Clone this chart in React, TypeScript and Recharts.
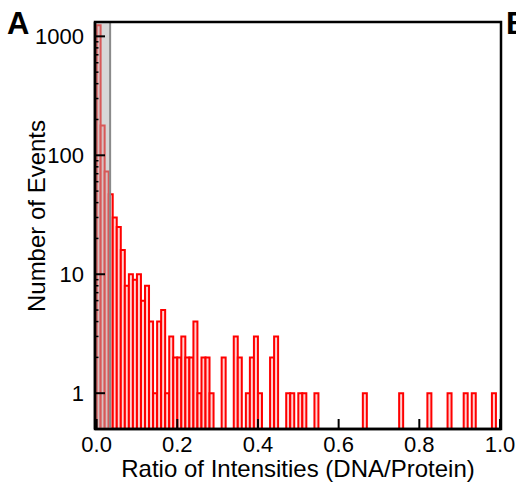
import React from 'react'
import { BarChart, Bar, XAxis, YAxis, ReferenceArea, Label } from 'recharts'

// histogram bins of width 0.01, only the non-empty ones (centre of each bin)
const binCenters = [
  0.005, 0.015, 0.025, 0.035, 0.045, 0.055, 0.065, 0.075, 0.085, 0.095,
  0.105, 0.115, 0.125, 0.135, 0.145, 0.155, 0.165, 0.175, 0.185, 0.195,
  0.205, 0.215, 0.225, 0.235, 0.245, 0.255, 0.265, 0.275, 0.285, 0.315,
  0.345, 0.355, 0.375, 0.385, 0.395, 0.405, 0.435, 0.445, 0.475, 0.485,
  0.505, 0.515, 0.545, 0.665, 0.755, 0.825, 0.875, 0.915, 0.935, 0.985,
]
const eventCounts = [
  1240, 178, 73, 47, 30, 25, 16, 8, 10, 9,
  10, 6, 8, 4, 1, 4, 5, 1, 3, 2,
  2, 3, 2, 2, 4, 1, 2, 2, 1, 2,
  3, 2, 1, 2, 3, 1, 2, 3, 1, 1,
  1, 1, 1, 1, 1, 1, 1, 1, 1, 1,
]

const xTicks = [0, 0.2, 0.4, 0.6, 0.8, 1.0]
const yMajorTicks = [1, 10, 100, 1000]
const yMinorTicks = [
  2, 3, 4, 5, 6, 7, 8, 9,
  20, 30, 40, 50, 60, 70, 80, 90,
  200, 300, 400, 500, 600, 700, 800, 900,
]
// gray band marking the low-ratio cut
const cutoffRange = [-0.004, 0.0335]

const X_DOMAIN = [-0.004, 1.0025]
const Y_DOMAIN = [0.5, 1320]
const FONT = '"Liberation Sans", Arial, Helvetica, sans-serif'

const data = binCenters.map((c, i) => ({ center: c, count: eventCounts[i] }))

function XTick(props: any) {
  const { x, y, payload } = props
  return (
    <g>
      <line x1={x} x2={x} y1={y} y2={y - 10} stroke="#000" strokeWidth={2} />
      <text x={x} y={y + 23} textAnchor="middle" fontSize={22} fill="#000" fontFamily={FONT}>
        {Number(payload.value).toFixed(1)}
      </text>
    </g>
  )
}

function YTick(props: any) {
  const { x, y, payload } = props
  const major = yMajorTicks.includes(payload.value)
  if (!major) {
    return <line x1={x} x2={x + 3.5} y1={y} y2={y} stroke="#000" strokeWidth={1.5} />
  }
  return (
    <g>
      <line x1={x} x2={x + 10} y1={y} y2={y} stroke="#000" strokeWidth={2} />
      <text x={x - 11} y={y + 8} textAnchor="end" fontSize={22} fill="#000" fontFamily={FONT}>
        {payload.value}
      </text>
    </g>
  )
}

export default function App() {
  return (
    <div style={{ position: 'absolute', left: 0, top: 0, width: 516, height: 485, background: '#fff' }}>
      <BarChart
        width={516}
        height={485}
        data={data}
        margin={{ top: 22, right: 15, bottom: 0, left: 0 }}
        barCategoryGap={0}
        barGap={0}
      >
        <XAxis
          dataKey="center"
          type="number"
          domain={X_DOMAIN}
          allowDataOverflow
          ticks={xTicks}
          interval={0}
          tick={XTick}
          tickLine={false}
          tickSize={0}
          tickMargin={0}
          axisLine={{ stroke: '#000', strokeWidth: 2.5 }}
          height={56}
        >
          <Label
            value="Ratio of Intensities (DNA/Protein)"
            position="insideBottom"
            offset={8}
            style={{ fontSize: 24, fill: '#000', fontFamily: FONT }}
          />
        </XAxis>
        <YAxis
          type="number"
          scale="log"
          domain={Y_DOMAIN}
          allowDataOverflow
          ticks={[...yMajorTicks, ...yMinorTicks]}
          interval={0}
          tick={YTick}
          tickLine={false}
          tickSize={0}
          tickMargin={0}
          axisLine={{ stroke: '#000', strokeWidth: 2.5 }}
          width={95}
        >
          <Label
            content={() => (
              <text
                x={45}
                y={216}
                transform="rotate(-90 45 216)"
                textAnchor="middle"
                fontSize={24}
                fill="#000"
                fontFamily={FONT}
              >
                Number of Events
              </text>
            )}
          />
        </YAxis>
        <Bar
          dataKey="count"
          fill="#ffd2d2"
          stroke="#ff0000"
          strokeWidth={2}
          isAnimationActive={false}
        />
        <ReferenceArea
          x1={cutoffRange[0]}
          x2={cutoffRange[1]}
          fill="rgb(175,175,175)"
          fillOpacity={0.5}
          stroke="#8a8a8a"
          strokeWidth={2}
          ifOverflow="hidden"
          zIndex={900}
        />
        <ReferenceArea
          x1={X_DOMAIN[0]}
          x2={X_DOMAIN[1]}
          y1={Y_DOMAIN[0]}
          y2={Y_DOMAIN[1]}
          fill="none"
          stroke="#000"
          strokeWidth={2.5}
          ifOverflow="visible"
          zIndex={1000}
        />
      </BarChart>
      <svg width={516} height={485} style={{ position: 'absolute', left: 0, top: 0, pointerEvents: 'none' }}>
        <text x={7} y={34} fontSize={31} fontWeight="bold" fontFamily={FONT} fill="#000">A</text>
        <text x={506} y={34} fontSize={31} fontWeight="bold" fontFamily={FONT} fill="#000">B</text>
      </svg>
    </div>
  )
}
